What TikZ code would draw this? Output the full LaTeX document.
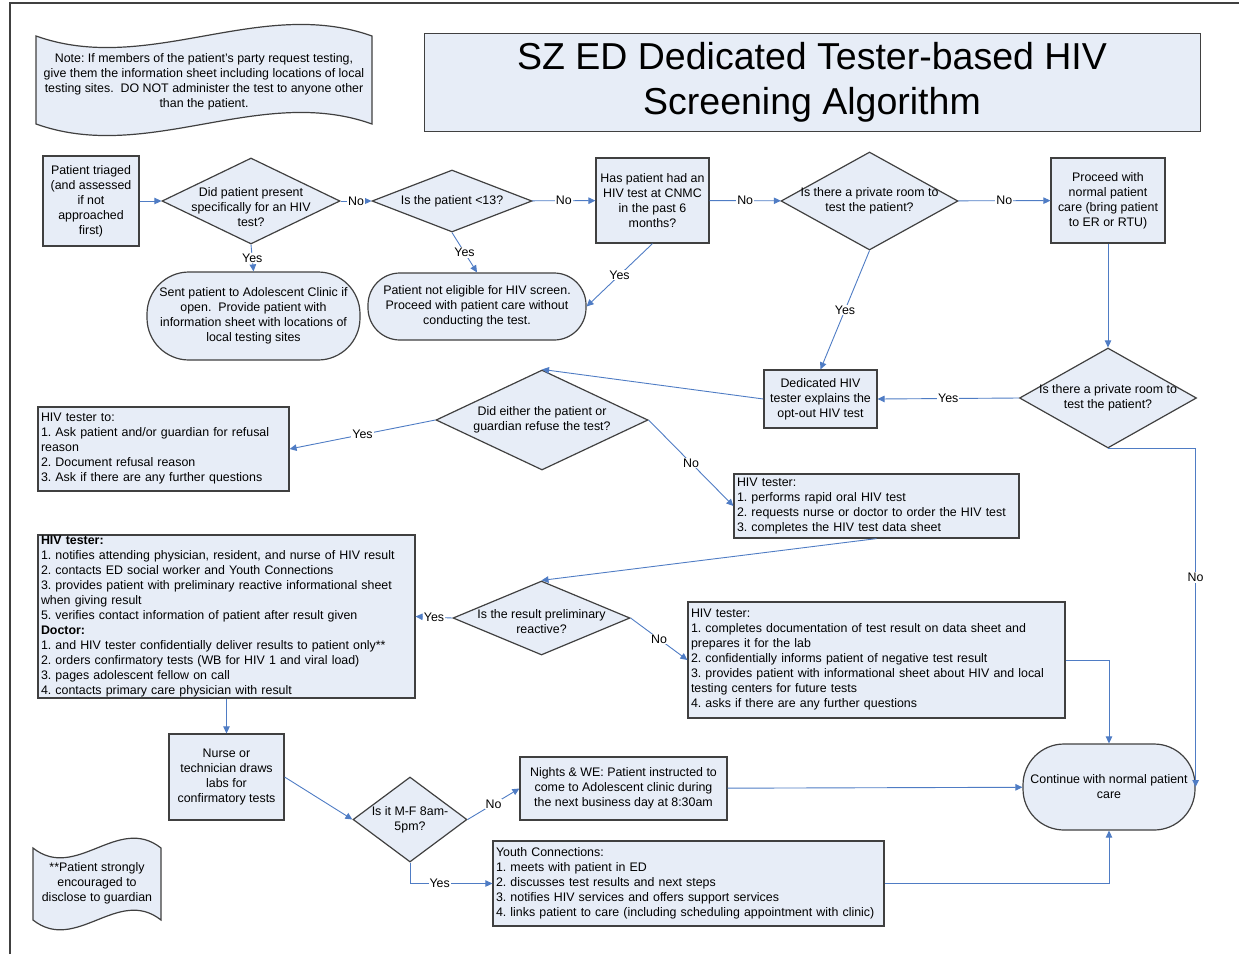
\documentclass[tikz,border=0pt]{standalone}
\usepackage{fontspec}
\setmainfont{Liberation Sans}
\usetikzlibrary{shapes.geometric,arrows.meta}
\definecolor{boxfill}{RGB}{231,237,247}
\definecolor{linegray}{RGB}{64,64,64}
\definecolor{flowblue}{RGB}{79,124,196}
\newcommand{\flowfont}{\fontsize{12.4}{15}\selectfont\frenchspacing}
\newcommand{\titlefont}{\fontsize{37.5}{45}\selectfont}

\begin{document}
\begin{tikzpicture}[x=1pt,y=-1pt,
  box/.style={rectangle,draw=linegray,fill=boxfill,line width=1.2pt,inner sep=1pt,align=center,font=\flowfont},
  listbox/.style={box,align=left,inner xsep=3pt},
  terminal/.style={box,rounded corners=#1},
  decision/.style={diamond,draw=linegray,fill=boxfill,line width=1.2pt,inner sep=0pt},
  note/.style={draw=linegray,fill=boxfill,line width=1.2pt},
  flow/.style={draw=flowblue,line width=0.9pt,-{Triangle[length=7pt,width=6.5pt]}},
  lab/.style={fill=white,inner sep=1pt,font=\flowfont},
  every label/.style={align=center,font=\flowfont,inner sep=0pt}]
\useasboundingbox (0,0) rectangle (1239,954);
\draw[line width=2.5pt,linegray] (10,954) -- (10,3) -- (1239,3);
% notes and title
\draw[note] (36,36) .. controls (148,76) and (260,-4) .. (372,36) -- (372,124) .. controls (260,84) and (148,164) .. (36,124) -- cycle;
\node[align=center,font=\flowfont] (n1) at (204,82) {Note: If members of the patient's party request testing,\\give them the information sheet including locations of local\\testing sites.\ \ DO NOT administer the test to anyone other\\than the patient.};
\draw[note] (33,848) .. controls (76,882) and (118,814) .. (161,848) -- (161,920) .. controls (118,886) and (76,954) .. (33,920) -- cycle;
\node[align=center,font=\flowfont] (n2) at (97,883) {**Patient strongly\\encouraged to\\disclose to guardian};
\node[box,line width=1pt,minimum width=776pt,minimum height=98pt,font=\titlefont] (title) at (812,82) {SZ ED Dedicated Tester-based HIV\\Screening Algorithm};
% nodes
\node[box,minimum width=96pt,minimum height=90pt] (1) at (91,201) {Patient triaged\\(and assessed\\if not\\approached\\first)};
\node[decision,minimum width=178pt,minimum height=86pt,label={[yshift=-6pt]center:{Did patient present\\specifically for an HIV\\test?}}] (2) at (251,201) {};
\node[decision,minimum width=160pt,minimum height=62pt,label={center:{Is the patient <13?}}] (3) at (452,201) {};
\node[box,minimum width=113pt,minimum height=85pt] (4) at (652.5,200.5) {Has patient had an\\HIV test at CNMC\\in the past 6\\months?};
\node[decision,minimum width=177pt,minimum height=98pt,label={center:{Is there a private room to\\test the patient?}}] (5) at (869.5,201) {};
\node[box,minimum width=114pt,minimum height=85pt] (6) at (1108,200.5) {Proceed with\\normal patient\\care (bring patient\\to ER or RTU)};
\node[terminal=42pt,minimum width=213pt,minimum height=88pt] (7) at (253.5,316) {Sent patient to Adolescent Clinic if\\open.\ \ Provide patient with\\information sheet with locations of\\local testing sites};
\node[terminal=32pt,minimum width=218pt,minimum height=67pt] (8) at (477,306.5) {Patient not eligible for HIV screen.\\Proceed with patient care without\\conducting the test.};
\node[decision,minimum width=177pt,minimum height=100pt,label={center:{Is there a private room to\\test the patient?}}] (9) at (1108,398) {};
\node[box,minimum width=113pt,minimum height=58pt] (10) at (820.5,399) {Dedicated HIV\\tester explains the\\opt-out HIV test};
\node[decision,minimum width=212pt,minimum height=100pt,label={center:{Did either the patient or\\guardian refuse the test?}}] (11) at (542,420) {};
\node[listbox,text width=245pt,minimum height=84pt] (12) at (163.5,449) {HIV tester to:\\1. Ask patient and/or guardian for refusal\\reason\\2. Document refusal reason\\3. Ask if there are any further questions};
\node[listbox,text width=279pt,minimum height=64pt] (13) at (876.5,506) {HIV tester:\\1. performs rapid oral HIV test\\2. requests nurse or doctor to order the HIV test\\3. completes the HIV test data sheet};
\node[decision,minimum width=177pt,minimum height=74pt,label={[yshift=-4pt]center:{Is the result preliminary\\reactive?}}] (14) at (541.5,618) {};
\node[listbox,text width=371pt,minimum height=163pt,inner ysep=0pt] (15) at (226.5,616.5) {\textbf{HIV tester:}\\1. notifies attending physician, resident, and nurse of HIV result\\2. contacts ED social worker and Youth Connections\\3. provides patient with preliminary reactive informational sheet\\when giving result\\5. verifies contact information of patient after result given\\\textbf{Doctor:}\\1. and HIV tester confidentially deliver results to patient only**\\2. orders confirmatory tests (WB for HIV 1 and viral load)\\3. pages adolescent fellow on call\\4. contacts primary care physician with result};
\node[listbox,text width=371pt,minimum height=116pt] (16) at (876.5,660) {HIV tester:\\1. completes documentation of test result on data sheet and\\prepares it for the lab\\2. confidentially informs patient of negative test result\\3. provides patient with informational sheet about HIV and local\\testing centers for future tests\\4. asks if there are any further questions};
\node[box,minimum width=115pt,minimum height=86pt] (17) at (226.5,777) {Nurse or\\technician draws\\labs for\\confirmatory tests};
\node[decision,minimum width=114pt,minimum height=85pt,label={center:{Is it M-F 8am-\\5pm?}}] (18) at (410,819.5) {};
\node[box,minimum width=207pt,minimum height=63pt] (19) at (623.5,788.5) {Nights \& WE: Patient instructed to\\come to Adolescent clinic during\\the next business day at 8:30am};
\node[listbox,text width=385pt,minimum height=85pt] (20) at (688.5,883.5) {Youth Connections:\\1. meets with patient in ED\\2. discusses test results and next steps\\3. notifies HIV services and offers support services\\4. links patient to care (including scheduling appointment with clinic)};
\node[terminal=41pt,minimum width=172pt,minimum height=86pt] (21) at (1109,787) {Continue with normal patient\\care};
% connectors
\path (1) edge[flow] (2);
\path (2) edge[flow] node[lab] {No} (3);
\path (3) edge[flow] node[lab] {No} (4);
\path (4) edge[flow] node[lab] {No} (5);
\path (5) edge[flow] node[lab] {No} (6);
\path (2.south) edge[flow] node[lab] {Yes} (7.north);
\path (3.south) edge[flow] node[lab] {Yes} (8.north);
\path (4.south) edge[flow] node[lab] {Yes} (8.east);
\path (5.south) edge[flow] node[lab] {Yes} (10.north);
\path (6) edge[flow] (9);
\path (9.west) edge[flow] node[lab] {Yes} (10.east);
\draw[flow] (9.south) -| node[lab,pos=0.69] {No} (21.east);
\path (10.west) edge[flow] (11.north);
\path (11.west) edge[flow] node[lab] {Yes} (12.east);
\path (11.east) edge[flow] node[lab] {No} (13.west);
\path (13.south) edge[flow] (14.north);
\path (14.west) edge[flow] node[lab] {Yes} (15.east);
\path (14.east) edge[flow] node[lab] {No} (16.west);
\draw[flow] (16.east) -| (21.north);
\path (15.south) edge[flow] (17.north);
\path (17.east) edge[flow] (18.west);
\path (18.east) edge[flow] node[lab] {No} (19.west);
\path (19) edge[flow] (21);
\draw[flow] (18.south) |- node[lab,pos=0.68] {Yes} (20.west);
\draw[flow] (20.east) -| (21.south);
\end{tikzpicture}
\end{document}
